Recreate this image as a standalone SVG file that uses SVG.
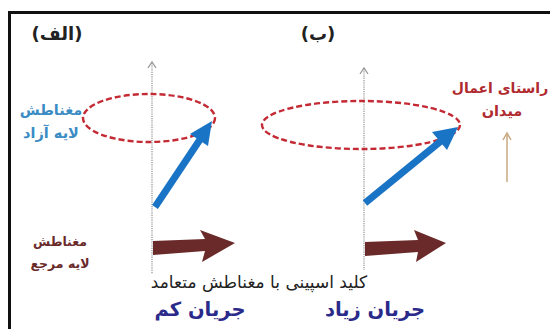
<svg xmlns="http://www.w3.org/2000/svg" width="550" height="329" viewBox="0 0 550 329">
<style>
.t{font-family:"DejaVu Sans",sans-serif;font-weight:bold;text-anchor:middle}
.axis{stroke:#a8a8a8;stroke-width:1.5;stroke-dasharray:1.2 1;fill:none}
.axh{stroke:#999;stroke-width:1.3;fill:none}
.ell{fill:none;stroke:#c42a34;stroke-width:2.4;stroke-dasharray:6 3}
.blue{stroke:#1a74c6;stroke-width:7;fill:none}
.bh{fill:#1a74c6}
.brown{fill:#6a2a2a}
</style>
<rect x="9.5" y="12.5" width="560" height="330" fill="none" stroke="#111" stroke-width="3"/>
<g id="label-a"><text class="t" x="57" y="40" font-size="18" fill="#222">(الف)</text></g>
<g id="label-b"><text class="t" x="318" y="40" font-size="18" fill="#222">(ب)</text></g>
<g id="connectors">
<line class="axis" x1="152" y1="63" x2="152" y2="274"/>
<path class="axh" d="M148,68 L152,62 L156,68"/>
<line class="axis" x1="364" y1="69" x2="364" y2="270"/>
<path class="axh" d="M360,74 L364,68 L368,74"/>
<line x1="507" y1="182" x2="507" y2="134" stroke="#c8a882" stroke-width="1.5"/>
<path d="M503,140 L507,133 L511,140" stroke="#c8a882" stroke-width="1.5" fill="none"/>
</g>
<g id="free-layer-left">
<ellipse class="ell" cx="149" cy="118" rx="66" ry="24"/>
<line class="blue" x1="155" y1="207" x2="203" y2="135"/>
<polygon class="bh" points="212,121 190,134 208,146"/>
</g>
<g id="free-layer-right">
<ellipse class="ell" cx="361" cy="125" rx="99" ry="24"/>
<line class="blue" x1="365" y1="203" x2="441" y2="141"/>
<polygon class="bh" points="458,127 432,132 447,150"/>
</g>
<g id="ref-left"><polygon class="brown" points="153,241 205,239 200,230 235,243 202,262 205,251 153,255"/></g>
<g id="ref-right"><polygon class="brown" points="365,242 418,240 414,230 446,243 416,262 418,252 365,256"/></g>
<g id="free-label">
<text class="t" x="51" y="115" font-size="14.5" fill="#3b8cc4">مغناطش</text>
<text class="t" x="51" y="138" font-size="14.5" fill="#3b8cc4">لایه آزاد</text>
</g>
<g id="field-label">
<text class="t" x="500" y="93" font-size="14" fill="#b02a30">راستای اعمال</text>
<text class="t" x="502" y="116" font-size="14.5" fill="#b02a30">میدان</text>
</g>
<g id="ref-label">
<text class="t" x="60" y="246" font-size="12.5" fill="#6a2a2a">مغناطش</text>
<text class="t" x="60" y="268" font-size="12.5" fill="#6a2a2a">لایه مرجع</text>
</g>
<g id="caption"><text x="259" y="288" font-family="DejaVu Sans,sans-serif" font-size="17" text-anchor="middle" fill="#222">کلید اسپینی با مغناطش متعامد</text></g>
<g id="low"><text class="t" x="200" y="316" font-size="19.5" fill="#2a2a8a">جریان کم</text></g>
<g id="high"><text class="t" x="375" y="316" font-size="19.5" fill="#2a2a8a">جریان زیاد</text></g>
</svg>
